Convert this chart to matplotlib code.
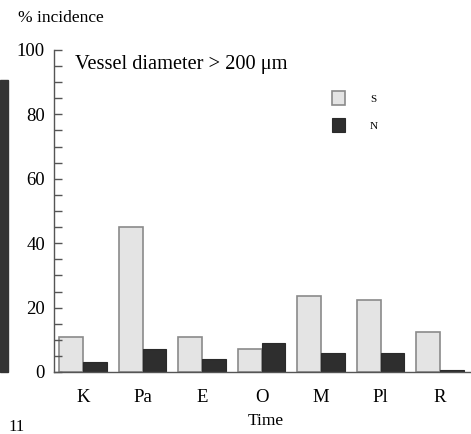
import matplotlib
matplotlib.use("Agg")
import matplotlib.pyplot as plt
import numpy as np
from matplotlib.patches import Rectangle

categories = ["K", "Pa", "E", "O", "M", "Pl", "R"]
s_values = [11, 45, 11, 7, 23.5, 22.5, 12.5]
n_values = [3, 7, 4, 9, 6, 6, 0.6]
yticks_major = [0, 20, 40, 60, 80, 100]

plt.rcParams['font.family'] = ['Liberation Serif', 'DejaVu Serif']

W, H = 471, 434
fig = plt.figure(figsize=(W / 100, H / 100), dpi=100)
ax = fig.add_axes([54 / W, (H - 372) / H, (W - 54) / W, (372 - 50) / H])

x = np.arange(len(categories))
bw = 0.4
light = "#e4e4e4"
dark = "#2e2e2e"
ax.bar(x - bw / 2, s_values, width=bw, color=light, edgecolor="#8a8a8a", linewidth=1.2, label="S")
ax.bar(x + bw / 2, n_values, width=bw, color=dark, edgecolor="#2a2a2a", linewidth=0.8, label="N")

ax.set_xlim(-0.49, 6.52)
ax.set_ylim(0, 100)
ax.set_yticks(yticks_major)
ax.set_yticks(np.arange(0, 101, 5), minor=True)
ax.tick_params(axis='y', which='both', direction='in', length=6, width=1, color="#555555",
               labelsize=13.5, pad=6.5)
ax.set_xticks(x)
ax.set_xticklabels(categories)
ax.tick_params(axis='x', length=0, labelsize=13.5, pad=12)

for side in ("top", "right"):
    ax.spines[side].set_visible(False)
ax.spines["left"].set_color("#555555")
ax.spines["bottom"].set_color("#555555")
ax.spines["left"].set_linewidth(1.0)
ax.spines["bottom"].set_linewidth(1.0)

fig.text(75 / W, (H - 64) / H, "Vessel diameter > 200 μm", fontsize=14.7, va="center", ha="left")
fig.text(18 / W, (H - 18) / H, "% incidence", fontsize=12.5, va="center", ha="left")
fig.text(266 / W, (H - 421) / H, "Time", fontsize=12.5, va="center", ha="center")

leg = ax.legend(loc="upper left", bbox_to_anchor=(322 / W, (H - 81) / H),
                bbox_transform=fig.transFigure, frameon=False, fontsize=8,
                handlelength=1.2, handleheight=1.6, handletextpad=2.2, labelspacing=1.15)

# scan artefacts
fig.patches.append(Rectangle((0, (H - 372) / H), 8 / W, (372 - 80) / H,
                             transform=fig.transFigure, color="#333333", zorder=0))
fig.text(8 / W, (H - 419) / H, "11", fontsize=12, va="top", ha="left")

fig.savefig("out.png", dpi=100)
